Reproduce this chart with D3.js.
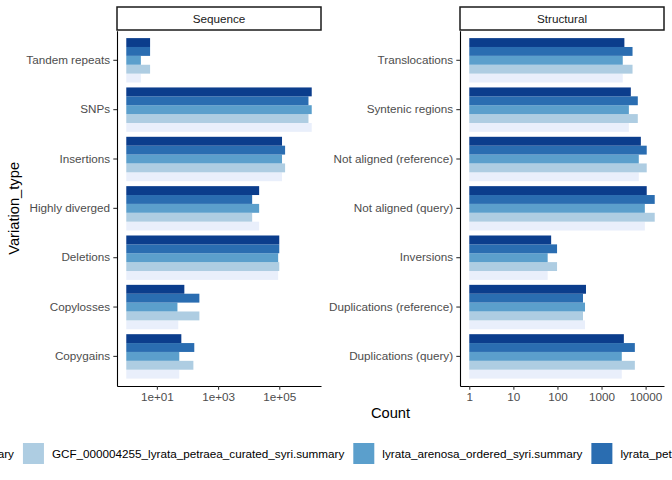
<!DOCTYPE html>
<html><head><meta charset="utf-8">
<script src="https://cdn.jsdelivr.net/npm/d3@7"></script>
<style>body{margin:0;background:#fff}svg{display:block;font-family:"Liberation Sans",Arial,Helvetica,sans-serif}</style>
</head><body>
<svg id="c" width="672" height="480"></svg>
<script>
// ---- data ----
const levels = [
  "GCA_905216605_lyrata_arenosa_v2_syri.summary",
  "GCF_000004255_lyrata_petraea_curated_syri.summary",
  "lyrata_arenosa_ordered_syri.summary",
  "lyrata_petraea_ordered_syri.summary",
  "lyrata_thaliana_reordered_syri.summary"
];
const colors = ["#e9effb", "#aecde2", "#5b9fcc", "#2a6db1", "#0b3d8c"];

const seqCategories = ["Tandem repeats","SNPs","Insertions","Highly diverged","Deletions","Copylosses","Copygains"];
// values per level (levels order above), per category
const seqValues = [
  [3, 1150000, 123000, 22000, 92000, 50, 54],
  [6, 900000, 155000, 13000, 100000, 245, 156],
  [3, 1150000, 123000, 22000, 92000, 47, 54],
  [6, 900000, 155000, 13000, 100000, 245, 167],
  [6, 1150000, 123000, 22000, 100000, 79, 63]
];
const strCategories = ["Translocations","Syntenic regions","Not aligned (reference)","Not aligned (query)","Inversions","Duplications (reference)","Duplications (query)"];
const strValues = [
  [3030, 4170, 7000, 9600, 60, 422, 2880],
  [5050, 6650, 10600, 16100, 98, 380, 5700],
  [3030, 4170, 7000, 9600, 60, 422, 2880],
  [5050, 6650, 10600, 16100, 98, 380, 5700],
  [3300, 4620, 7800, 10600, 72, 444, 3210]
];
const seqTicks = [10, 1000, 100000];
const seqTickLabels = ["1e+01", "1e+03", "1e+05"];
const strTicks = [1, 10, 100, 1000, 10000];
const strTickLabels = ["1", "10", "100", "1000", "10000"];

// ---- layout ----
const svg = d3.select("#c");
const pTop = 30.7, pBottom = 386, stripTop = 7;
const panels = [
  {name: "Sequence", x0: 117, x1: 321, cats: seqCategories, vals: seqValues, ticks: seqTicks, labels: seqTickLabels},
  {name: "Structural", x0: 460, x1: 664, cats: strCategories, vals: strValues, ticks: strTicks, labels: strTickLabels}
];
const tickCol = "#333333", textCol = "#4d4d4d";

panels.forEach(p => {
  const maxV = d3.max(p.vals.flat());
  const M = Math.log10(maxV);
  const x = d3.scaleLog().domain([Math.pow(10, -0.05 * M), Math.pow(10, 1.05 * M)]).range([p.x0, p.x1]);
  const y = d3.scaleBand().domain(p.cats).range([pTop, pBottom]).paddingInner(0).paddingOuter(0.1);
  const inner = d3.scaleBand().domain(levels.slice().reverse()).range([0, y.bandwidth() * 0.9]);
  const g = svg.append("g");
  p.cats.forEach((c, ci) => {
    levels.forEach((lv, li) => {
      const v = p.vals[li][ci];
      g.append("rect")
        .attr("x", x(1))
        .attr("y", y(c) + y.bandwidth() * 0.05 + inner(lv))
        .attr("width", x(v) - x(1))
        .attr("height", inner.bandwidth())
        .attr("fill", colors[li]);
    });
  });
  // y axis
  const ya = svg.append("g").attr("transform", `translate(${p.x0},0)`)
    .call(d3.axisLeft(y).tickSizeInner(3.7).tickSizeOuter(0).tickPadding(3.2));
  ya.select(".domain").attr("stroke", "#000").attr("stroke-width", 1.1);
  ya.selectAll(".tick line").attr("stroke", tickCol).attr("stroke-width", 1.1);
  ya.selectAll(".tick text").attr("fill", textCol).attr("font-size", "11.7px")
    .attr("font-family", '"Liberation Sans",Arial,sans-serif');
  // x axis
  const xa = svg.append("g").attr("transform", `translate(0,${pBottom})`)
    .call(d3.axisBottom(x).tickValues(p.ticks).tickFormat((d, i) => p.labels[i]).tickSizeInner(3.7).tickSizeOuter(0).tickPadding(2.6));
  xa.select(".domain").attr("stroke", "#000").attr("stroke-width", 1.1);
  xa.selectAll(".tick line").attr("stroke", tickCol).attr("stroke-width", 1.1);
  xa.selectAll(".tick text").attr("fill", textCol).attr("font-size", "11.7px")
    .attr("font-family", '"Liberation Sans",Arial,sans-serif');
  // strip
  svg.append("rect").attr("x", p.x0).attr("y", stripTop).attr("width", p.x1 - p.x0).attr("height", pTop - stripTop - 0.7)
    .attr("fill", "#fff").attr("stroke", "#1a1a1a").attr("stroke-width", 1.5);
  svg.append("text").attr("x", (p.x0 + p.x1) / 2).attr("y", (stripTop + pTop) / 2).attr("dy", "0.35em")
    .attr("text-anchor", "middle").attr("font-size", "11.7px").attr("fill", "#1a1a1a").text(p.name);
});

// axis titles
const cx = (panels[0].x0 + panels[1].x1) / 2;
svg.append("text").attr("x", cx).attr("y", 418).attr("text-anchor", "middle")
  .attr("font-size", "14.7px").attr("fill", "#000").text("Count");
svg.append("text").attr("transform", `translate(19,${(pTop + pBottom) / 2}) rotate(-90)`)
  .attr("text-anchor", "middle").attr("font-size", "14.7px").attr("fill", "#000").text("Variation_type");

// legend (centered on the panel region)
const keyS = 21, gapKT = 8, gapTK = 9, ly = 443;
const lg = svg.append("g");
const items = levels.map((lv, i) => {
  const it = lg.append("g");
  it.append("rect").attr("width", keyS).attr("height", keyS).attr("fill", colors[i]);
  const t = it.append("text").attr("x", keyS + gapKT).attr("y", keyS / 2).attr("dy", "0.35em")
    .attr("font-size", "11.7px").attr("fill", "#000").text(lv);
  return {it, w: keyS + gapKT + t.node().getComputedTextLength()};
});
const totalW = d3.sum(items, d => d.w) + gapTK * (items.length - 1);
let xpos = cx - totalW / 2;
items.forEach(d => { d.it.attr("transform", `translate(${xpos},${ly})`); xpos += d.w + gapTK; });
</script>
</body></html>
